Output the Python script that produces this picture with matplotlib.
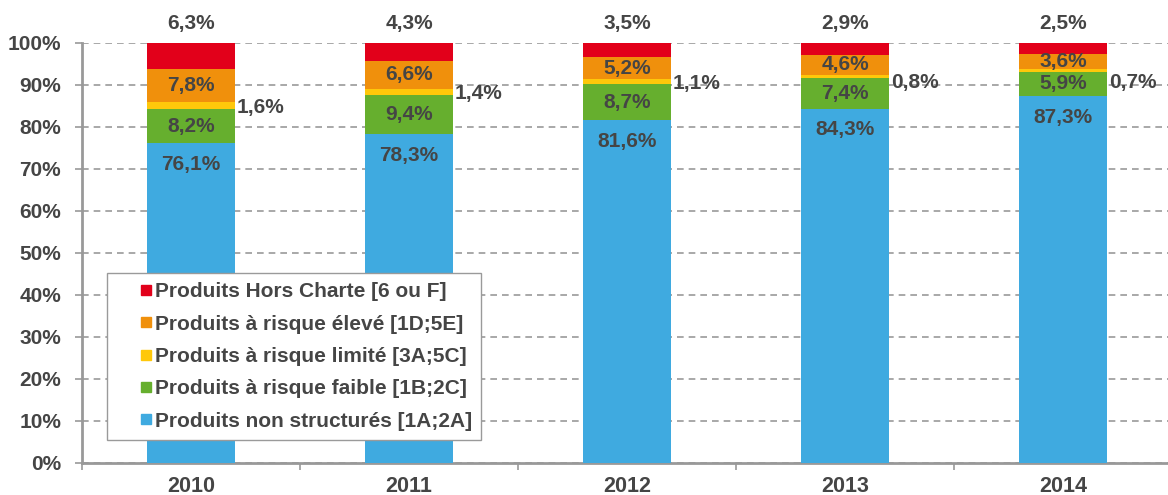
import numpy as np
import matplotlib
matplotlib.use("Agg")
import matplotlib.pyplot as plt
from matplotlib.lines import Line2D

# data (percent)
years = ["2010", "2011", "2012", "2013", "2014"]
non_structures = [76.1, 78.3, 81.6, 84.3, 87.3]
risque_faible = [8.2, 9.4, 8.7, 7.4, 5.9]
risque_limite = [1.6, 1.4, 1.1, 0.8, 0.7]
risque_eleve = [7.8, 6.6, 5.2, 4.6, 3.6]
hors_charte = [6.3, 4.3, 3.5, 2.9, 2.5]

series = [
    ("Produits non structurés [1A;2A]", non_structures, "#3FAAE0"),
    ("Produits à risque faible [1B;2C]", risque_faible, "#66AF2E"),
    ("Produits à risque limité [3A;5C]", risque_limite, "#FFC80A"),
    ("Produits à risque élevé [1D;5E]", risque_eleve, "#F0900C"),
    ("Produits Hors Charte [6 ou F]", hors_charte, "#E2001A"),
]

plt.rcParams["font.family"] = ["Liberation Sans", "DejaVu Sans"]
plt.rcParams["font.weight"] = "bold"
txt_color = "#454545"

fig = plt.figure(figsize=(11.68, 4.95), dpi=100)
ax = fig.add_axes([82 / 1168, 1 - 463 / 495, 1090 / 1168, 420 / 495])

x = np.arange(len(years))
width = 0.4
bottom = np.zeros(len(years))
for name, vals, col in series:
    vals = np.array(vals)
    ax.bar(x, vals, width, bottom=bottom, color=col, label=name, zorder=3)
    bottom = bottom + vals

def fmt(v):
    return ("%.1f%%" % v).replace(".", ",")

fs = 15
for i in range(len(years)):
    b0 = non_structures[i]
    b1 = b0 + risque_faible[i]
    b2 = b1 + risque_limite[i]
    ax.text(x[i], b0 - 5, fmt(non_structures[i]), ha="center", va="center",
            fontsize=fs, color=txt_color, zorder=4)
    ax.text(x[i], b0 + risque_faible[i] / 2, fmt(risque_faible[i]), ha="center",
            va="center", fontsize=fs, color=txt_color, zorder=4)
    ax.text(x[i] + width / 2 + 0.01, min(b1 + risque_limite[i] / 2 - 0.5, 90.7),
            fmt(risque_limite[i]), ha="left", va="center", fontsize=fs,
            color=txt_color, zorder=4)
    ax.text(x[i], b2 + risque_eleve[i] / 2, fmt(risque_eleve[i]), ha="center",
            va="center", fontsize=fs, color=txt_color, zorder=4)
    ax.text(x[i], 104.6, fmt(hors_charte[i]), ha="center", va="center",
            fontsize=fs, color=txt_color, clip_on=False)

ax.set_xlim(-0.5, len(years) - 0.5)
ax.set_ylim(0, 100)
ax.set_yticks(np.arange(0, 101, 10))
ax.set_yticklabels(["%d%%" % v for v in range(0, 101, 10)])
ax.set_xticks(x)
ax.set_xticklabels(years)
ax.set_xticks(np.arange(-0.5, len(years), 1), minor=True)
ax.tick_params(axis="x", which="major", length=0, pad=9, labelsize=15.5,
               labelcolor=txt_color)
ax.tick_params(axis="x", which="minor", length=5, color="#999999", width=1.2)
ax.tick_params(axis="y", length=5, color="#999999", width=1.2, labelsize=15,
               labelcolor=txt_color, pad=10)

ax.yaxis.grid(True, linestyle=(0, (4, 3)), color="#9a9a9a", linewidth=1.2, zorder=0)
ax.set_axisbelow(True)
for s in ["top", "right"]:
    ax.spines[s].set_visible(False)
for s in ["left", "bottom"]:
    ax.spines[s].set_color("#999999")
    ax.spines[s].set_linewidth(2)

# square markers as legend keys, top to bottom in reverse stacking order
handles = [Line2D([], [], linestyle="none", marker="s", markersize=7.5,
                  markerfacecolor=s[2], markeredgecolor=s[2]) for s in series[::-1]]
leg = ax.legend(handles, [s[0] for s in series][::-1], loc="lower left",
                bbox_to_anchor=(0.023, 0.055), borderaxespad=0, fancybox=False,
                edgecolor="#9a9a9a", framealpha=1, fontsize=15,
                handlelength=2.8, handletextpad=-0.95,
                labelspacing=0.64, borderpad=0.45)
for t in leg.get_texts():
    t.set_color(txt_color)
leg.set_zorder(5)

fig.savefig("out.png", dpi=100)
